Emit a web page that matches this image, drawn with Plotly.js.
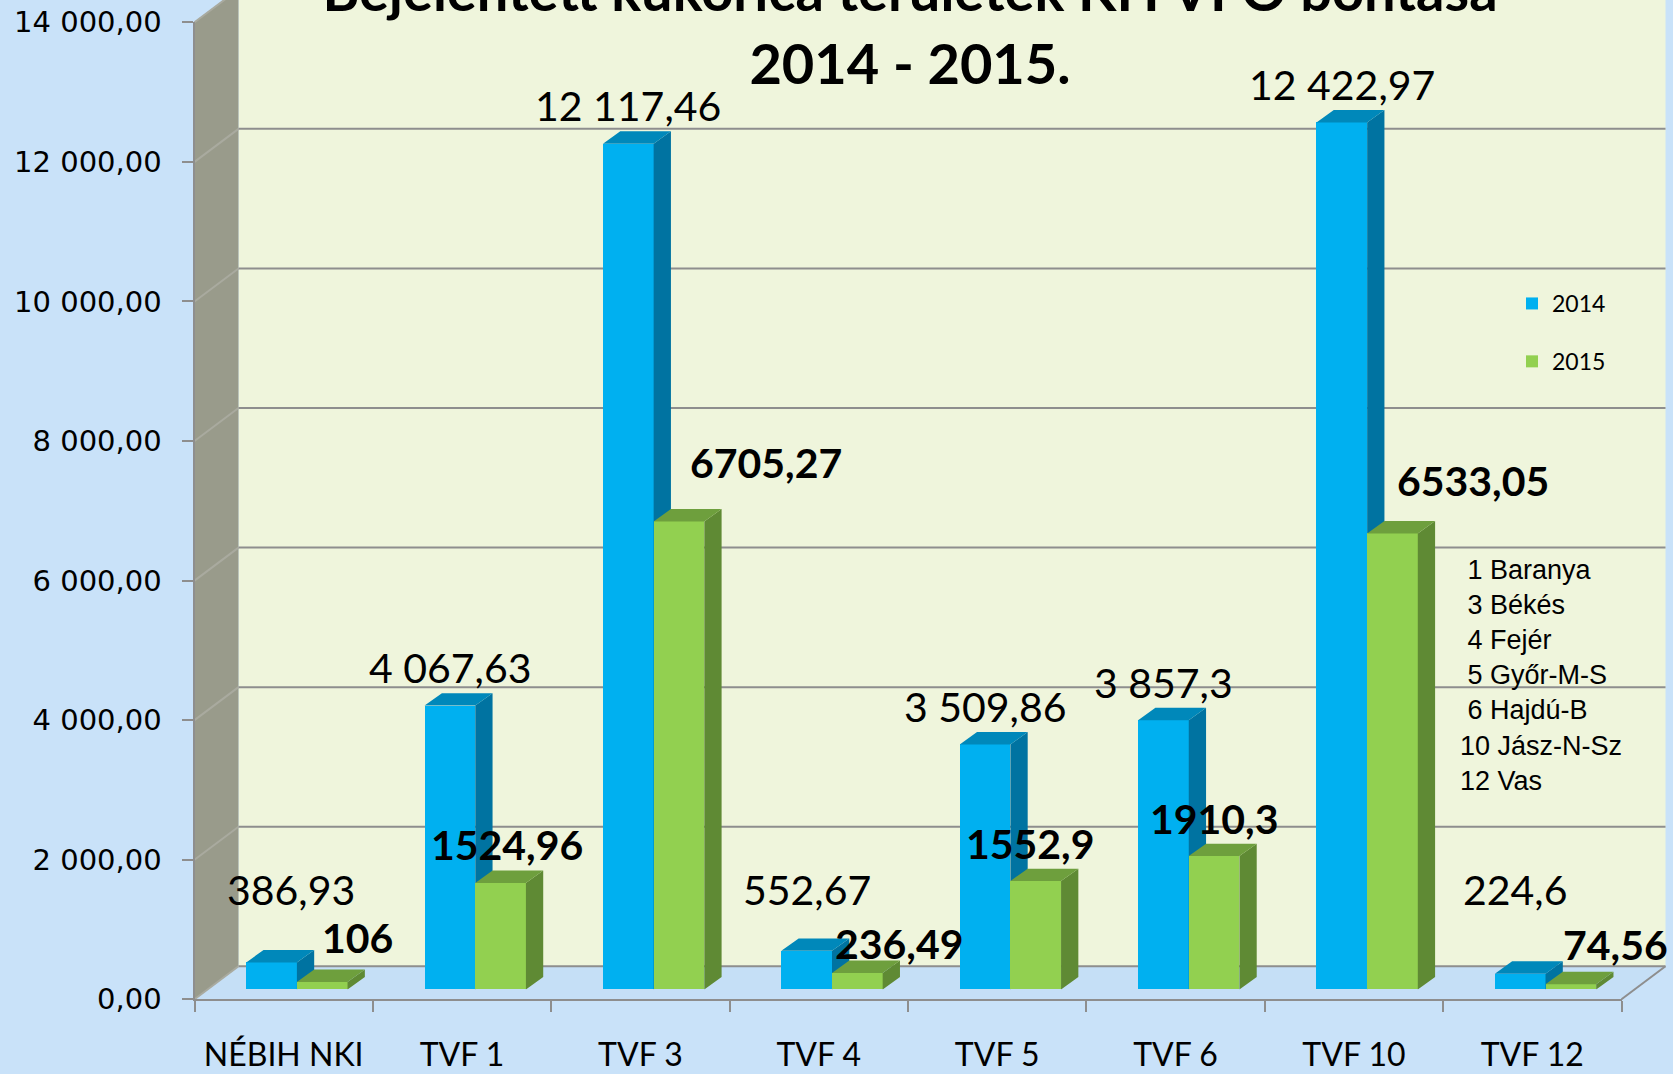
<!DOCTYPE html>
<html>
<head>
<meta charset="utf-8">
<script src="https://cdn.plot.ly/plotly-3.0.1.min.js"></script>
<style>
html,body{margin:0;padding:0;overflow:hidden;background:#c9e2f9;}
#chart{width:1673px;height:1074px;}
</style>
</head>
<body>
<div id="chart"></div>
<script>
// ---------------- data ----------------
const categories = ['NÉBIH NKI', 'TVF 1', 'TVF 3', 'TVF 4', 'TVF 5', 'TVF 6', 'TVF 10', 'TVF 12'];
const seriesNames = ['2014', '2015'];
const values2014 = [386.93, 4067.63, 12117.46, 552.67, 3509.86, 3857.3, 12422.97, 224.6];
const values2015 = [106, 1524.96, 6705.27, 236.49, 1552.9, 1910.3, 6533.05, 74.56];
const yTickValues = [0, 2000, 4000, 6000, 8000, 10000, 12000, 14000];
const countyNotes = ['1 Baranya', '3 Békés', '4 Fejér', '5 Győr-M-S', '6 Hajdú-B', '10 Jász-N-Sz', '12 Vas'];
const titleLines = ['Bejelentett kukorica területek KH VFO bontása', '2014 - 2015.'];

// ---------------- layout geometry (pixels) ----------------
const W = 1673, H = 1074;
const FX0 = 194.5, FX1 = 1621.5;      // front plane left/right
const FY0 = 999.3, FYT = 22.3;        // front plane: value 0 / value YMAX
const YMAX = 14000;
const DEPTH_X = 44, DEPTH_Y = 33;     // depth of the floor / side wall
const BAR_PLANE = 0.3;                // bars stand at this fraction of the depth
const BAR_W = 0.284;                  // bar width in category units
const BAR_DX = 17.3, BAR_DY = 12.4;   // bar depth (px)
const label14DX = [19, 0, 0, 0, 0, 0, 0, -5];
const label15DX = [35, 6, 87, 42, -5, 0, 81, 45];
const label15DY = [45, 38, 59, 29, 38, 38, 53, 40];
const label14Floor = 880;

const pxPerCat = (FX1 - FX0) / categories.length;
const pxPerVal = (FY0 - FYT) / YMAX;
const px = x => x / W;
const py = y => (H - y) / H;
const yPix = v => FY0 - v * pxPerVal;

const gray = '#8e8e8e';
const lato = 'Lato, "Open Sans", sans-serif';

// ---------------- formatting ----------------
const groupThousands = s => s.replace(/\B(?=(\d{3})+(?!\d))/g, ' ');
const fmtAxis = v => { const p = v.toFixed(2).split('.'); return groupThousands(p[0]) + ',' + p[1]; };
const fmt2014 = v => { const p = String(v).split('.'); return groupThousands(p[0]) + (p[1] ? ',' + p[1] : ''); };
const fmt2015 = v => String(v).replace('.', ',');

// ---------------- pseudo 3D faces ----------------
const ddx = BAR_DX / pxPerCat;
const ddy = BAR_DY / pxPerVal;
function faces(vals, offset) {
  const side = {x: [], y: []}, top = {x: [], y: []};
  vals.forEach((v, i) => {
    const xl = i + offset, xr = xl + BAR_W;
    side.x.push(xr, xr + ddx, xr + ddx, xr, xr, null);
    side.y.push(0, ddy, v + ddy, v, 0, null);
    top.x.push(xl, xl + ddx, xr + ddx, xr, xl, null);
    top.y.push(v, v + ddy, v + ddy, v, v, null);
  });
  return {side, top};
}
const idx = categories.map((c, i) => i);
const f14 = faces(values2014, -BAR_W);
const f15 = faces(values2015, 0);

function poly(face, color, xa, ya) {
  return {type: 'scatter', mode: 'lines', x: face.x, y: face.y, fill: 'toself', fillcolor: color,
          line: {width: 0, color: color}, xaxis: xa, yaxis: ya, hoverinfo: 'skip', showlegend: false};
}

const traces = [
  {type: 'scatter', x: categories, y: categories.map(() => 0), mode: 'markers', marker: {opacity: 0},
   hoverinfo: 'skip', showlegend: false, xaxis: 'x', yaxis: 'y'},
  {type: 'bar', name: seriesNames[0], x: idx, y: values2014, width: BAR_W, offset: -BAR_W,
   marker: {color: '#00b0f0', line: {width: 0}}, xaxis: 'x2', yaxis: 'y2', legendgroup: 'g14'},
  poly(f14.side, '#0073a1', 'x2', 'y2'),
  poly(f14.top, '#0088ba', 'x2', 'y2'),
  {type: 'bar', name: seriesNames[1], x: idx, y: values2015, width: BAR_W, offset: 0,
   marker: {color: '#92d050', line: {width: 0}}, xaxis: 'x3', yaxis: 'y3', legendgroup: 'g15'},
  poly(f15.side, '#5f8a34', 'x3', 'y3'),
  poly(f15.top, '#6e9f3d', 'x3', 'y3')
];

// ---------------- walls, floor and grid ----------------
const shapes = [];
// back wall
shapes.push({type: 'rect', xref: 'paper', yref: 'paper', layer: 'below',
  x0: px(FX0 + DEPTH_X), x1: px(FX1 + DEPTH_X), y0: py(FY0 - DEPTH_Y), y1: py(FYT - DEPTH_Y),
  fillcolor: '#eff5dc', line: {width: 0}});
// left wall
shapes.push({type: 'path', xref: 'paper', yref: 'paper', layer: 'below',
  path: `M${px(FX0)},${py(FY0)} L${px(FX0 + DEPTH_X)},${py(FY0 - DEPTH_Y)} L${px(FX0 + DEPTH_X)},${py(FYT - DEPTH_Y)} L${px(FX0)},${py(FYT)} Z`,
  fillcolor: '#999b8b', line: {width: 0}});
// floor
shapes.push({type: 'path', xref: 'paper', yref: 'paper', layer: 'below',
  path: `M${px(FX0)},${py(FY0)} L${px(FX1)},${py(FY0)} L${px(FX1 + DEPTH_X)},${py(FY0 - DEPTH_Y)} L${px(FX0 + DEPTH_X)},${py(FY0 - DEPTH_Y)} Z`,
  fillcolor: '#c5dff6', line: {width: 0}});
// grid lines on back wall and left wall
yTickValues.forEach(v => {
  const yp = yPix(v);
  shapes.push({type: 'line', xref: 'paper', yref: 'paper', layer: 'below',
    x0: px(FX0 + DEPTH_X), x1: px(FX1 + DEPTH_X), y0: py(yp - DEPTH_Y), y1: py(yp - DEPTH_Y),
    line: {color: gray, width: 2}});
  shapes.push({type: 'line', xref: 'paper', yref: 'paper', layer: 'below',
    x0: px(FX0), x1: px(FX0 + DEPTH_X), y0: py(yp), y1: py(yp - DEPTH_Y),
    line: {color: '#a9aa9f', width: 2}});
});
// right floor edge
shapes.push({type: 'line', xref: 'paper', yref: 'paper', layer: 'below',
  x0: px(FX1), x1: px(FX1 + DEPTH_X), y0: py(FY0), y1: py(FY0 - DEPTH_Y),
  line: {color: gray, width: 2}});

// ---------------- annotations ----------------
const annotations = [];
values2014.forEach((v, i) => {
  annotations.push({xref: 'x2', yref: 'y2', x: i - BAR_W / 2, y: Math.max(v, label14Floor),
    text: fmt2014(v), showarrow: false, yanchor: 'middle', xanchor: 'center',
    yshift: 38, xshift: label14DX[i], font: {family: lato, size: 41, color: '#000'}});
});
values2015.forEach((v, i) => {
  annotations.push({xref: 'x3', yref: 'y3', x: i + BAR_W / 2, y: v,
    text: fmt2015(v), showarrow: false, yanchor: 'middle', xanchor: 'center',
    yshift: label15DY[i], xshift: label15DX[i], font: {family: lato, size: 41, color: '#000', weight: 700}});
});
annotations.push({xref: 'paper', yref: 'paper', x: px(1458), y: py(675.5), xanchor: 'left', yanchor: 'middle',
  align: 'left', showarrow: false,
  text: countyNotes.map(n => (/^\d\s/.test(n) ? '\u00a0' + n : n)).join('<br>'),
  font: {family: 'Liberation Sans, Arial, sans-serif', size: 27, color: '#000'}});

const layout = {
  width: W, height: H, autosize: false,
  margin: {l: 0, r: 0, t: 0, b: 0, pad: 0},
  paper_bgcolor: '#c9e2f9', plot_bgcolor: 'rgba(0,0,0,0)',
  title: {text: titleLines.join('<br>'), x: px(910), xanchor: 'center', xref: 'paper',
          y: py(11), yref: 'container', yanchor: 'bottom', pad: {t: 0, b: 0, l: 0, r: 0},
          font: {family: lato, size: 56, color: '#000', weight: 700}},
  showlegend: true,
  legend: {x: px(1512), xanchor: 'left', y: py(282), yanchor: 'top', bgcolor: 'rgba(0,0,0,0)',
           font: {family: lato, size: 23, color: '#000'}, tracegroupgap: 25, itemwidth: 30,
           traceorder: 'grouped'},
  xaxis: {type: 'category', domain: [px(FX0), px(FX1)], range: [-0.5, categories.length - 0.5],
          categoryorder: 'array', categoryarray: categories, tickson: 'boundaries',
          ticks: 'outside', ticklen: 11, tickwidth: 2, tickcolor: gray,
          showline: true, linecolor: gray, linewidth: 2, showgrid: false, zeroline: false,
          tickfont: {family: lato, size: 32, color: '#000'}, ticklabelstandoff: 26,
          anchor: 'y', fixedrange: true},
  yaxis: {domain: [py(FY0), py(FYT)], range: [0, YMAX], tickmode: 'array', tickvals: yTickValues,
          ticktext: yTickValues.map(fmtAxis), ticks: 'outside', ticklen: 11, tickwidth: 2, tickcolor: gray,
          showline: true, linecolor: gray, linewidth: 2, showgrid: false, zeroline: false,
          tickfont: {family: '"DejaVu Sans", Verdana, sans-serif', size: 29, color: '#000'},
          ticklabelstandoff: 14, anchor: 'x', fixedrange: true},
  xaxis2: {domain: [px(FX0 + BAR_PLANE * DEPTH_X), px(FX1 + BAR_PLANE * DEPTH_X)],
           range: [-0.5, categories.length - 0.5], visible: false, anchor: 'y2', fixedrange: true},
  yaxis2: {domain: [py(FY0 - BAR_PLANE * DEPTH_Y), py(FYT - BAR_PLANE * DEPTH_Y)],
           range: [0, YMAX], visible: false, anchor: 'x2', fixedrange: true},
  xaxis3: {overlaying: 'x2', range: [-0.5, categories.length - 0.5], visible: false, anchor: 'y3', fixedrange: true},
  yaxis3: {overlaying: 'y2', range: [0, YMAX], visible: false, anchor: 'x3', fixedrange: true},
  shapes: shapes,
  annotations: annotations,
  bargap: 0
};

Plotly.newPlot('chart', traces, layout, {staticPlot: true, displayModeBar: false});
</script>
</body>
</html>
